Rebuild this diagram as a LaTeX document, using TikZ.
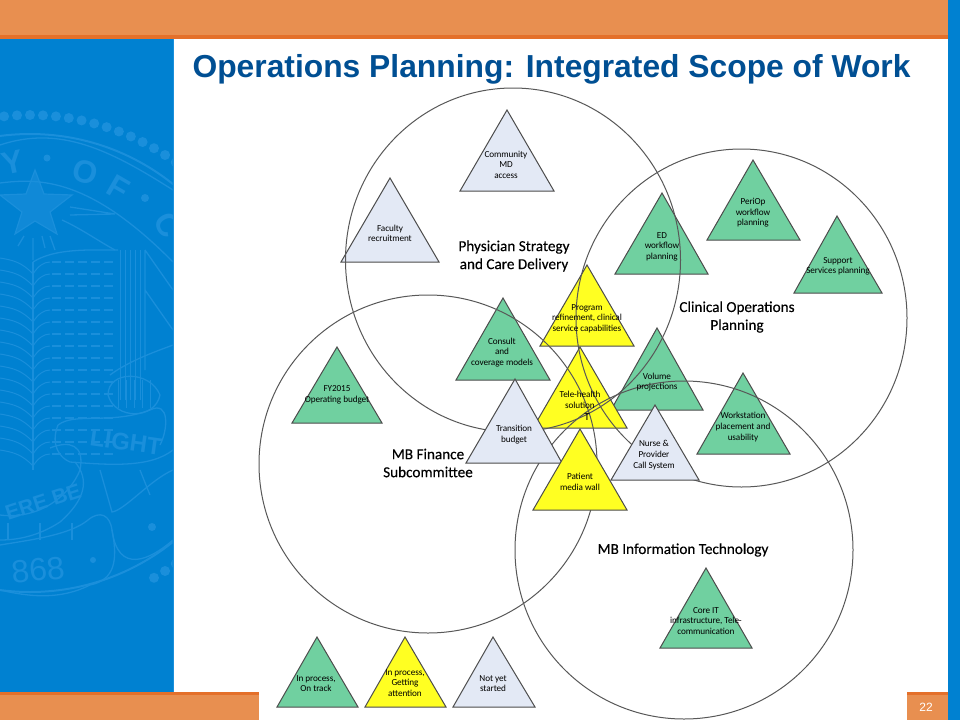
\documentclass[tikz,border=0pt]{standalone}
\usepackage{fontspec}
\setmainfont{Carlito}
\newfontfamily\titlefont{Liberation Sans}
\newfontfamily\bigfont[FakeBold=0.25]{Carlito}
\usetikzlibrary{shapes.geometric}
\definecolor{bandor}{HTML}{E88F50}
\definecolor{bandln}{HTML}{E4702A}
\definecolor{panel}{HTML}{0081D1}
\definecolor{seal}{HTML}{1A8FDB}
\definecolor{titleblue}{HTML}{004F93}
\definecolor{tgreen}{HTML}{70D0A0}
\definecolor{tyellow}{HTML}{FFFF22}
\definecolor{tpale}{HTML}{E3E9F5}
\definecolor{ringc}{HTML}{585858}
\tikzset{
  ring/.style={draw=ringc,line width=1pt},
  tri/.style={draw=black!70,line width=1pt,line join=miter},
  small/.style={inner sep=0pt,align=center,font=\fontsize{9.2}{10.6}\selectfont\addfontfeatures{LetterSpace=-1},text=black},
  big/.style={inner sep=0pt,align=center,font=\bigfont\fontsize{15.2}{18}\selectfont,text=black},
  sealtxt/.style={inner sep=0pt,text=seal,font=\titlefont\bfseries\fontsize{32}{32}\selectfont},
  sealln/.style={draw=seal,line width=1.3pt},
}
% \tria{fill}{apex x}{apex y}{base y}{left x}{right x}
\newcommand{\tria}[6]{\draw[tri,fill=#1] (#2,#3) -- (#6,#4) -- (#5,#4) -- cycle;}
\begin{document}
\begin{tikzpicture}[x=1pt,y=-1pt]
\useasboundingbox (0,0) rectangle (960,720);
\fill[white] (0,0) rectangle (960,720);
% frame
\fill[panel] (0,39) rectangle (174,692);
\fill[seal] (172.6,39) rectangle (174,692);
\fill[panel] (948,0) rectangle (960,720);
% seal
\begin{scope}
\clip (0,39) rectangle (172.6,692);
\foreach \a in {-150,-147,...,150} {\fill[seal] ({30+248*sin(\a)},{363-248*cos(\a)}) circle (5);}
\draw[sealln,line width=2pt] (30,363) circle (229);
\draw[sealln] (0,145) .. controls (60,125) and (110,150) .. (173,190);
\node[sealtxt,rotate=12] (sealY) at (13,163) {Y};
\fill[seal] (47,158) circle (3.5);
\node[sealtxt,rotate=-15] (sealO) at (85,172) {O};
\node[sealtxt,rotate=-30] (sealF) at (118,188) {F};
\fill[seal] (145,198) circle (4);
\node[sealtxt,rotate=-60] (sealC) at (168,225) {C};
% star
\draw[sealln,fill=seal!60!panel,line width=1.2pt] (35,170) -- (44,194) -- (72,195) -- (50,212) -- (57,234) -- (35,221) -- (15,234) -- (22,212) -- (0,195) -- (26,194) -- cycle;
% rays
\draw[sealln] (0,183) .. controls (40,178) and (90,178) .. (173,262);
\draw[sealln] (70,207) -- (115,214) -- (70,215);
\draw[sealln] (62,220) .. controls (80,228) and (100,242) .. (115,250);
\draw[sealln] (18,246) -- (24,236) (33,260) -- (33,238) (45,248) -- (42,236) (55,250) -- (50,236);
% book
\draw[sealln] (33,262) -- (33,470);
\foreach \y in {262,274,...,462} {
  \draw[seal,line width=1pt] (33,\y+12) .. controls (22,\y) and (12,\y-2) .. (0,\y-4);
  \draw[seal,line width=1pt] (33,\y+12) .. controls (38,\y+4) and (44,\y) .. (50,\y);
  \draw[seal,line width=1.2pt,dash pattern=on 9pt off 4pt] (52,\y) -- (116,\y);
}
\draw[sealln] (33,262) .. controls (55,248) and (90,250) .. (118,250);
\foreach \x in {120,125,...,140} {\draw[seal,line width=1pt] (\x,250) -- (\x,400);}
\draw[sealln] (145,250) -- (173,290) (145,250) -- (145,370) (145,290) -- (173,330);
% shield / scroll top right
\draw[sealln] (110,375) .. controls (130,360) and (160,350) .. (173,345);
\draw[sealln] (108,395) .. controls (108,370) and (150,370) .. (160,395) .. controls (155,420) and (115,420) .. (108,395);
\foreach \x in {118,126,...,150} {\draw[seal,line width=1pt] (\x,380) -- (\x,408);}
% ribbon
\draw[sealln] (58,425) .. controls (75,412) and (110,425) .. (150,410) .. controls (170,400) and (168,430) .. (160,445);
\draw[sealln] (58,425) .. controls (50,445) and (60,458) .. (70,462) .. controls (110,465) and (150,468) .. (173,450);
\draw[sealln] (50,448) .. controls (70,440) and (85,445) .. (80,470) .. controls (70,495) and (40,520) .. (0,515);
\draw[sealln] (75,462) .. controls (90,480) and (85,500) .. (60,522) .. controls (40,535) and (20,540) .. (0,540);
\draw[sealln] (100,470) -- (112,512) .. controls (125,510) and (150,480) .. (173,470);
\draw[sealln] (140,470) -- (150,495);
\draw[sealln] (88,520) .. controls (100,510) and (110,515) .. (112,530) .. controls (118,575) and (150,560) .. (173,540);
\draw[sealln] (112,530) .. controls (118,560) and (115,580) .. (90,585) .. controls (60,600) and (30,597) .. (0,590);
\draw[sealln] (0,545) .. controls (30,540) and (70,535) .. (88,520);
\foreach \x in {8,40,72} {\draw[sealln] (\x,523) -- (\x,540);}
\node[sealtxt,rotate=-8,font=\titlefont\bfseries\fontsize{24}{24}\selectfont] (sealL) at (126,442) {LIGHT};
\node[sealtxt,rotate=18,font=\titlefont\bfseries\fontsize{21}{21}\selectfont] (sealE) at (43,502) {ERE BE};
\node[sealtxt,rotate=6,font=\titlefont\fontsize{32}{32}\selectfont] (sealN) at (38,570) {868};
\fill[seal] (93,560) circle (3);
\fill[seal] (152,527) circle (4);
\end{scope}
% bands
\fill[bandor] (0,0) rectangle (948,36);
\fill[bandln] (0,35) rectangle (948,39);
\fill[bandor] (0,692) rectangle (259,720);
\fill[bandln] (0,692) rectangle (259,695);
\fill[bandor] (907,692) rectangle (948,720);
\fill[bandln] (907,692) rectangle (948,695);
\node[inner sep=0pt,text=white,font=\titlefont\fontsize{12}{12}\selectfont] (page) at (926,707) {22};
\node[inner sep=0pt,text=titleblue,font=\titlefont\bfseries\fontsize{31.8}{31.8}\selectfont] (title) at (551.5,69.5) {Operations Planning: Integrated Scope of Work};
% triangles under the rings
\tria{tpale}{507}{110}{191}{460}{554}
\tria{tpale}{390}{178}{262}{341}{439}
\tria{tgreen}{662}{193}{274}{615}{708}
\tria{tgreen}{753}{160}{240}{707}{800}
\tria{tgreen}{837}{216}{293}{794}{882}
\tria{tgreen}{337}{347}{423}{292}{382}
\tria{tgreen}{743}{373}{454}{697}{790}
\tria{tgreen}{706}{568}{648}{660}{752}
\tria{tgreen}{503}{298}{380}{456}{550}
\tria{tgreen}{657}{328}{410}{611}{703}
\tria{tyellow}{587}{265}{346}{540}{634}
\tria{tyellow}{580}{347}{428}{533}{627}
% rings
\draw[ring] (513,260) ellipse (167.5 and 172);
\draw[ring] (741.5,318) ellipse (165.5 and 169);
\draw[ring] (428,464) circle (169);
\draw[ring] (684,550) circle (169);
% triangles over the rings
\tria{tpale}{515}{379}{463}{466}{562}
\tria{tpale}{655}{405}{480}{611}{699}
\tria{tyellow}{580}{429}{510}{533}{627}
\tria{tgreen}{317}{637}{707}{277}{358}
\tria{tyellow}{405}{637}{707}{365}{446}
\tria{tpale}{493}{637}{707}{453}{535}
% big labels
\node[big] (lPhys) at (514,256) {Physician Strategy\\and Care Delivery};
\node[big] (lClin) at (737,317) {Clinical Operations\\Planning};
\node[big] (lFin) at (428,463) {MB Finance\\Subcommittee};
\node[big] (lIT) at (683,550) {MB Information Technology};
% small labels
\node[small] (tCommunity) at (506,164.5) {Community\\MD\\access};
\node[small] (tFaculty) at (390,233.5) {Faculty\\recruitment};
\node[small] (tED) at (662,246.5) {ED\\workflow\\planning};
\node[small] (tPeriOp) at (753,213) {PeriOp\\workflow\\planning};
\node[small] (tSupport) at (838,266.5) {Support\\Services planning};
\node[small] (tProgram) at (587,318.5) {Program\\refinement, clinical\\service capabilities};
\node[small] (tConsult) at (502,352.5) {Consult\\and\\coverage models};
\node[small] (tFY) at (337,395) {FY2015\\Operating budget};
\node[small] (tTele) at (580,400) {Tele-health\\solution};
\node[small,font=\fontsize{11}{11}\selectfont] (tCursor) at (587,417) {T};
\node[small] (tVolume) at (657,382) {Volume\\projections};
\node[small] (tTransition) at (514,434.5) {Transition\\budget};
\node[small] (tNurse) at (654,455) {Nurse \&\\Provider\\Call System};
\node[small] (tPatient) at (580,482) {Patient\\media wall};
\node[small] (tWork) at (743,427) {Workstation\\placement and\\usability};
\node[small] (tCore) at (706,621) {Core IT\\infrastructure, Tele-\\communication};
\node[small] (tLg) at (316,683.5) {In process,\\On track};
\node[small] (tLy) at (405,683) {In process,\\Getting\\attention};
\node[small] (tLp) at (493,683.5) {Not yet\\started};
\end{tikzpicture}
\end{document}
